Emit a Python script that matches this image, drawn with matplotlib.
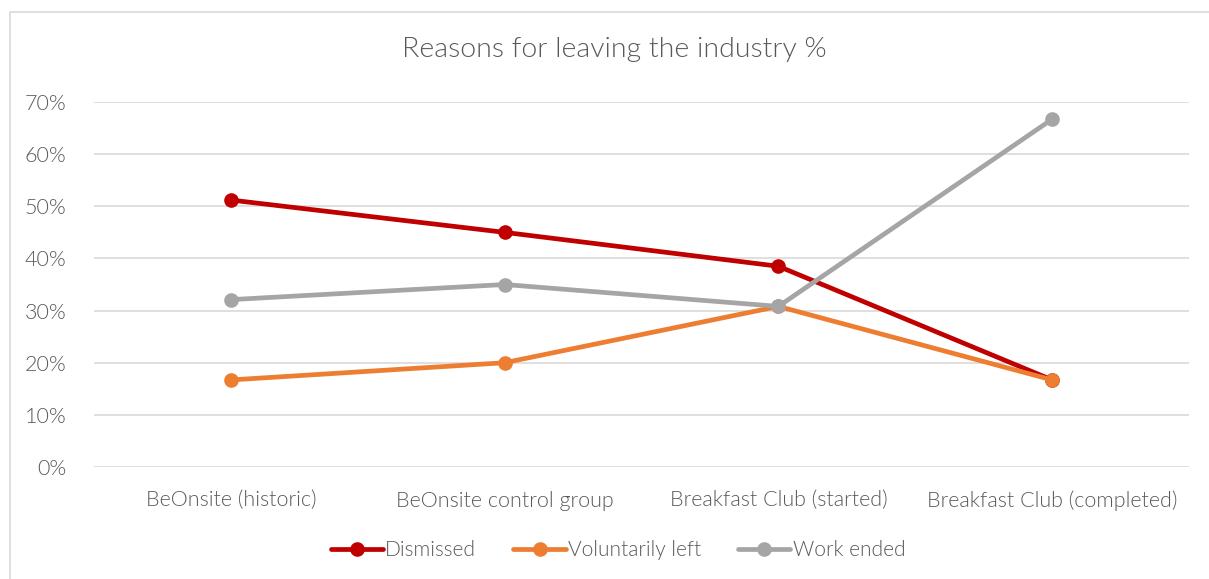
import matplotlib.pyplot as plt
from matplotlib.patches import Rectangle
from matplotlib.ticker import FuncFormatter

categories = ['BeOnsite (historic)', 'BeOnsite control group',
              'Breakfast Club (started)', 'Breakfast Club (completed)']
dismissed = [51.2, 45.0, 38.5, 16.7]
voluntarily_left = [16.7, 20.0, 30.8, 16.7]
work_ended = [32.1, 35.0, 30.8, 66.7]

plt.rcParams['font.family'] = ['Lato', 'DejaVu Sans']
plt.rcParams['font.weight'] = 300

fig = plt.figure(figsize=(12.09, 5.79), dpi=100)
ax = fig.add_axes([94 / 1209, 1 - 467 / 579, 1095 / 1209, 365 / 579])

# outer chart border
fig.patches.append(Rectangle((10 / 1209, -0.1), 1.2, 1 - 12 / 579 + 0.1,
                             transform=fig.transFigure, fill=False,
                             edgecolor='#d9d9d9', linewidth=1.2))

x = range(len(categories))
series = [
    ('Dismissed', dismissed, '#c00000'),
    ('Voluntarily left', voluntarily_left, '#ed7d31'),
    ('Work ended', work_ended, '#a5a5a5'),
]
for name, vals, col in series:
    ax.plot(x, vals, color=col, linewidth=3.4, marker='o', markersize=9.5,
            label=name, solid_capstyle='round')

ax.set_xlim(-0.5, 3.5)
ax.set_ylim(0, 70)
ax.set_yticks(range(0, 71, 10))
ax.yaxis.set_major_formatter(FuncFormatter(lambda v, p: '%d%%' % v))
ax.set_xticks(list(x))
ax.set_xticklabels(categories)
ax.grid(axis='y', color='#d9d9d9', linewidth=1.2)
ax.set_axisbelow(True)
for s in ax.spines.values():
    s.set_visible(False)
ax.tick_params(length=0, labelsize=15.5, labelcolor='#595959')
ax.tick_params(axis='x', pad=17)
ax.tick_params(axis='y', pad=20)

fig.text(614 / 1209, 1 - 50 / 579, 'Reasons for leaving the industry %',
         ha='center', va='center', fontsize=20.5, color='#595959')

fig.legend(loc='center', bbox_to_anchor=(618 / 1209, 1 - 550 / 579), ncol=3,
           frameon=False, fontsize=15, labelcolor='#595959', handlelength=2.5,
           handletextpad=0.1, columnspacing=1.8)

fig.savefig('out.png', dpi=100)
